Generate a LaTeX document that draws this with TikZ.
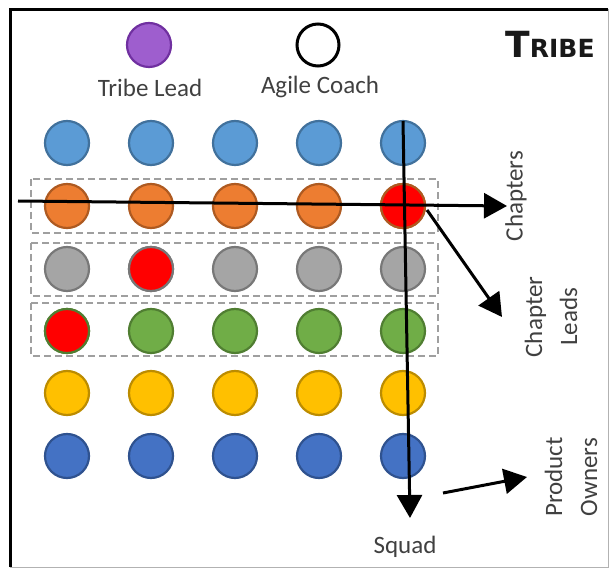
\documentclass[tikz,border=0pt]{standalone}
\usepackage{fontspec}
\setmainfont{Carlito}
\newfontfamily\tribefont{DejaVu Sans}
\usetikzlibrary{arrows.meta}
\definecolor{txtgray}{HTML}{404040}
\definecolor{lbluef}{HTML}{5B9BD5}\definecolor{lblued}{HTML}{41719C}
\definecolor{orangef}{HTML}{ED7D31}\definecolor{oranged}{HTML}{AE5A21}
\definecolor{greyf}{HTML}{A5A5A5}\definecolor{greyd}{HTML}{787878}
\definecolor{greenf}{HTML}{70AD47}\definecolor{greend}{HTML}{507E32}
\definecolor{yellowf}{HTML}{FFC000}\definecolor{yellowd}{HTML}{BC8C00}
\definecolor{dbluef}{HTML}{4472C4}\definecolor{dblued}{HTML}{2F528F}
\definecolor{purplef}{HTML}{9E5ECE}\definecolor{purpled}{HTML}{7030A0}
\definecolor{redf}{HTML}{FF0000}
\begin{document}
\begin{tikzpicture}[x=1pt,y=-1pt,
  dot/.style={circle, minimum size=44pt, inner sep=0pt, line width=2.2pt},
  lbl/.style={text=txtgray, font=\fontsize{25}{35}\selectfont, align=center, inner sep=0pt},
  arr/.style={line width=3pt, -{Triangle[length=23pt,width=25pt]}},
  grp/.style={draw=gray!75, line width=1.3pt, dash pattern=on 7pt off 4pt}]
\useasboundingbox (0,0) rectangle (611,569);
% frame
\draw[gray!60, line width=1pt] (10,10) rectangle (608,567);
\draw[black, line width=3pt] (10,567) -- (10,10) -- (608,10);
% title
\node[inner sep=0pt, text={black!90}] (tribe) at (550,44) {\tribefont\bfseries\fontsize{36}{36}\selectfont T\fontsize{25}{25}\selectfont RIBE};
% legend
\node[dot, fill=purplef, draw=purpled] (lead) at (149,45) {};
\node[dot, fill=white, draw=black, line width=3pt, minimum size=42pt] (coach) at (318,45) {};
\node[lbl] (leadt) at (150,88) {Tribe Lead};
\node[lbl] (coacht) at (320,87) {Agile Coach};
% dashed groups
\draw[grp] (31,179) rectangle (438,233);
\draw[grp] (31,243) rectangle (438,296);
\draw[grp] (31,303) rectangle (438,356);
% grid
\foreach \r/\y/\cf/\cd in {1/143/lbluef/lblued, 2/206/orangef/oranged, 3/269/greyf/greyd, 4/331/greenf/greend, 5/393/yellowf/yellowd, 6/456/dbluef/dblued}{
  \foreach \c/\x in {1/67, 2/151, 3/235, 4/319, 5/403}{
    \node[dot, fill=\cf, draw=\cd] (c-\r-\c) at (\x,\y) {};
  }
}
\node[dot, fill=redf, draw=oranged] (r1) at (c-2-5) {};
\node[dot, fill=redf, draw=greyd] (r2) at (c-3-2) {};
\node[dot, fill=redf, draw=greend] (r3) at (c-4-1) {};
% labels
\node[lbl, rotate=90] (chap) at (516,196) {Chapters};
\node[lbl, rotate=90] (leads) at (551,317) {Chapter\\Leads};
\node[lbl, rotate=90] (po) at (571,477) {Product\\Owners};
\node[lbl] (squad) at (405,547) {Squad};
% arrows
\coordinate (hs) at (18,201); \coordinate (he) at (507,206);
\coordinate (vs) at (403,121); \coordinate (ve) at (410,518);
\coordinate (ds) at (427,210); \coordinate (de) at (502,317);
\coordinate (ps) at (443,493); \coordinate (pe) at (527,477);
\draw[arr] (hs) -- (he);
\draw[arr] (vs) -- (ve);
\draw[arr] (ds) -- (de);
\draw[arr] (ps) -- (pe);
\end{tikzpicture}
\end{document}
